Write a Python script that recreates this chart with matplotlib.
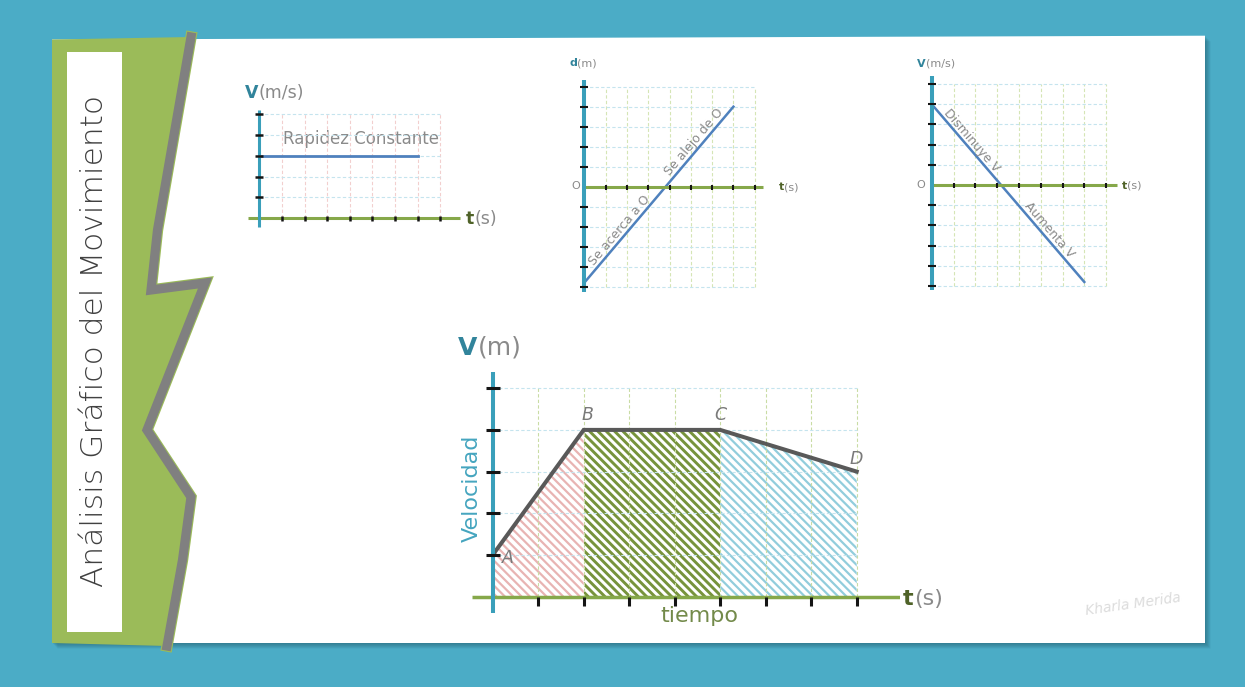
import numpy as np
import matplotlib as mpl
import matplotlib.pyplot as plt
from matplotlib.patches import Polygon, Rectangle

W, H = 1245, 687

# ------------------------------------------------------------
# Data
# ------------------------------------------------------------
# constant speed
const_t = [0, 7]
const_v = [3, 3]

# position vs time (passes through the origin O)
pos_t = [0, 7]
pos_d = [-4.8, 4.0]

# velocity vs time (speed decreases, then increases)
vel_t = [0, 7]
vel_v = [4.0, -4.8]

# main v-t diagram
main_t = [0, 2, 5, 8]
main_v = [1, 4, 4, 3]
main_pts = ["A", "B", "C", "D"]

# tick positions
ticks_t = [1, 2, 3, 4, 5, 6, 7, 8]
ticks_pos = [1, 2, 3, 4, 5]
ticks_both = [-5, -4, -3, -2, -1, 1, 2, 3, 4, 5]

TITLE = "Análisis Gráfico del Movimiento"

# ------------------------------------------------------------
# Colours
# ------------------------------------------------------------
BG = "#4BACC6"
GREEN = "#9BBB59"
GRAY_EDGE = "#808080"
TEAL = "#3A9FBA"
TEAL_TXT = "#31849B"
AX_GREEN = "#86A84A"
DARK_GREEN = "#4F6228"
BLUE = "#4F81BD"
TXT_GRAY = "#8A8A8A"
GRID_BLUE = "#C5E4EE"
GRID_PINK = "#F2CFCE"
GRID_GREEN = "#D5E5B5"
HATCH = ["#E8B4B3", "#77933C", "#92CDDC"]
HATCH_LW = [1.6, 2.1, 1.6]

plt.rcParams["font.family"] = ["DejaVu Sans"]

fig = plt.figure(figsize=(W / 100, H / 100), dpi=100)
fig.patch.set_facecolor(BG)

bg = fig.add_axes([0, 0, 1, 1])
bg.set_xlim(0, W)
bg.set_ylim(H, 0)
bg.axis("off")

# card with soft shadow
card = [(52, 39.5), (1205, 35.7), (1205, 643), (52, 643)]
for i in range(6):
    off = 1 + i * 0.9
    bg.add_patch(Polygon([(x + off, y + off) for x, y in card],
                         closed=True, fc="#1B4F5E", ec="none", alpha=0.09))
bg.add_patch(Polygon(card, closed=True, fc="white", ec="none"))

# green side panel with jagged edge
edge_x = [191, 157.5, 151, 205, 147, 191, 182.5, 167]
edge_y = [37, 230, 290, 283, 430, 497, 560, 646]
panel_pts = [(52, 39.5)] + list(zip(edge_x, edge_y)) + [(52, 643)]
bg.add_patch(Polygon(panel_pts, closed=True, fc=GREEN, ec="none"))
bg.plot(edge_x, edge_y, color=GREEN, lw=8.2, solid_joinstyle="miter")
bg.plot(edge_x, edge_y, color=GRAY_EDGE, lw=6.6, solid_joinstyle="miter")

bg.add_patch(Rectangle((67.3, 51.7), 55, 580, fc="white", ec="none"))
bg.text(95, 341, TITLE, rotation=90, ha="center", va="center",
        fontsize=22.5, color="#404040", fontweight="light")

# signature
bg.text(1133, 604, "Kharla Merida", ha="center", va="center", fontsize=10,
        style="italic", color="#DCDCDC", rotation=8)


def panel(x0, y0, x1, y1, ox, oy, sx, sy):
    # axes covering a pixel box, origin (ox, oy) and sx/sy pixels per unit
    ax = fig.add_axes([x0 / W, 1 - y1 / H, (x1 - x0) / W, (y1 - y0) / H])
    ax.set_xlim((x0 - ox) / sx, (x1 - ox) / sx)
    ax.set_ylim((oy - y1) / sy, (oy - y0) / sy)
    ax.axis("off")
    return ax


def grid(ax, xt, yt, vcol, hcol):
    lo = min(0, min(yt))
    ax.vlines(xt, lo, max(yt), colors=vcol, lw=0.8,
              linestyles=(0, (3, 2)), zorder=1)
    ax.hlines(yt, 0, max(xt), colors=hcol, lw=0.8,
              linestyles=(0, (3, 2)), zorder=1)


def axes_lines(ax, xr, yr, wy, wx):
    ax.plot(xr, [0, 0], color=AX_GREEN, lw=wx, solid_capstyle="butt", zorder=3)
    ax.plot([0, 0], yr, color=TEAL, lw=wy, solid_capstyle="butt", zorder=3)


def ticks(ax, xt, yt, ly, lx, mew):
    ax.plot(np.zeros(len(yt)), yt, ls="none", marker="_", ms=ly, mew=mew,
            color="#151515", zorder=4)
    ax.plot(xt, np.zeros(len(xt)), ls="none", marker="|", ms=lx, mew=mew,
            color="#151515", zorder=4)


def line_label(ax, t, ts, vs, text, gap=5.0, size=9):
    v = np.interp(t, ts, vs)
    p0 = ax.transData.transform((ts[0], vs[0]))
    p1 = ax.transData.transform((ts[-1], vs[-1]))
    ang = np.degrees(np.arctan2(p1[1] - p0[1], p1[0] - p0[0]))
    nx, ny = -np.sin(np.radians(ang)), np.cos(np.radians(ang))
    ax.annotate(text, (t, v), xytext=(nx * gap, ny * gap),
                textcoords="offset points", rotation=ang,
                rotation_mode="anchor", ha="center", va="center",
                fontsize=size, color=TXT_GRAY, zorder=5)


def axis_title(x, y, bold, rest, size, bcol):
    t1 = bg.text(x, y, bold, ha="left", va="center", fontsize=size,
                 fontweight="bold", color=bcol)
    bg.annotate(rest, xy=(1, 0), xycoords=t1, ha="left", va="bottom",
                fontsize=size, color=TXT_GRAY)


# ------------------------------------------------------------
# 1) Constant speed
# ------------------------------------------------------------
ax1 = panel(240, 100, 470, 235, 259.3, 218.3, 22.6, 20.8)
grid(ax1, ticks_t, ticks_pos, GRID_PINK, GRID_BLUE)
ax1.plot(const_t, const_v, color=BLUE, lw=2.0, zorder=2)
axes_lines(ax1, [-0.5, 8.9], [-0.4, 5.2], 2.2, 2.2)
ticks(ax1, ticks_t, ticks_pos, 5.8, 3.6, 1.8)
bg.text(283, 139, "Rapidez Constante", ha="left", va="center",
        fontsize=12, color=TXT_GRAY)
axis_title(245, 93, "V", "(m/s)", 12.5, TEAL_TXT)
axis_title(466, 219, "t", "(s)", 12.5, DARK_GREEN)

# ------------------------------------------------------------
# 2) Position vs time
# ------------------------------------------------------------
ax2 = panel(575, 75, 770, 300, 584.3, 186.7, 21.3, 20.0)
grid(ax2, ticks_t, ticks_both, GRID_GREEN, GRID_BLUE)
ax2.plot(pos_t, pos_d, color=BLUE, lw=1.8, zorder=2)
axes_lines(ax2, [0, 8.4], [-5.27, 5.33], 2.9, 2.2)
ticks(ax2, ticks_t, ticks_both, 5.8, 3.6, 1.5)
line_label(ax2, 1.9, pos_t, pos_d, "Se acerca a O")
line_label(ax2, 5.4, pos_t, pos_d, "Se alejo de O")
axis_title(569, 63, "d", "(m)", 8, TEAL_TXT)
bg.text(576, 186, "O", ha="center", va="center", fontsize=8, color=TXT_GRAY)
axis_title(779, 187, "t", "(s)", 8, DARK_GREEN)

# ------------------------------------------------------------
# 3) Velocity vs time
# ------------------------------------------------------------
ax3 = panel(925, 70, 1120, 295, 931.7, 185.0, 21.8, 20.2)
grid(ax3, ticks_t, ticks_both, GRID_GREEN, GRID_BLUE)
ax3.plot(vel_t, vel_v, color=BLUE, lw=1.8, zorder=2)
axes_lines(ax3, [0, 8.5], [-5.2, 5.4], 2.9, 2.2)
ticks(ax3, ticks_t, ticks_both, 5.8, 3.6, 1.5)
line_label(ax3, 1.6, vel_t, vel_v, "Disminuye V")
line_label(ax3, 5.15, vel_t, vel_v, "Aumenta V")
axis_title(917, 64, "V", "(m/s)", 8, TEAL_TXT)
bg.text(921, 185, "O", ha="center", va="center", fontsize=8, color=TXT_GRAY)
axis_title(1122, 186, "t", "(s)", 8, DARK_GREEN)

# ------------------------------------------------------------
# 4) Main v-t diagram with shaded areas
# ------------------------------------------------------------
ax4 = panel(465, 365, 900, 620, 492.7, 596.7, 45.5, 41.7)
for i, (col, hlw) in enumerate(zip(HATCH, HATCH_LW)):
    with mpl.rc_context({"hatch.linewidth": hlw}):
        ax4.fill_between(main_t[i:i + 2], main_v[i:i + 2], 0,
                         facecolor="none", edgecolor=col, hatch="\\" * 4,
                         lw=0, zorder=1)
grid(ax4, ticks_t, ticks_pos, "#C9DCA4", GRID_BLUE)
ax4.plot(main_t, main_v, color="#595959", lw=2.9, zorder=3,
         solid_joinstyle="miter")
axes_lines(ax4, [-0.46, 9.3], [-0.39, 5.4], 2.9, 2.5)
ax4.plot(np.zeros(len(ticks_pos)), ticks_pos, ls="none", marker="_", ms=9.4,
         mew=2.2, color="#151515", zorder=4)
ax4.vlines(ticks_t, -0.22, 0, colors="#151515", lw=2.2, zorder=4)

offsets = [(11, -2), (3, 11), (0, 11), (0, 9)]
for t, v, name, (dx, dy) in zip(main_t, main_v, main_pts, offsets):
    ax4.annotate(name, (t, v), xytext=(dx, dy), textcoords="offset points",
                 ha="center", va="center", fontsize=12.5, style="italic",
                 color="#7A7A7A", zorder=5)

axis_title(458, 348, "V", "(m)", 18, TEAL_TXT)
axis_title(903, 599, "t", "(s)", 16, DARK_GREEN)
bg.text(472, 488, "Velocidad", rotation=90, ha="center", va="center",
        fontsize=16, color="#45A5BF")
bg.text(699, 616, "tiempo", ha="center", va="center", fontsize=16,
        color="#738A4A")

fig.savefig("out.png", dpi=100, facecolor=fig.get_facecolor())
